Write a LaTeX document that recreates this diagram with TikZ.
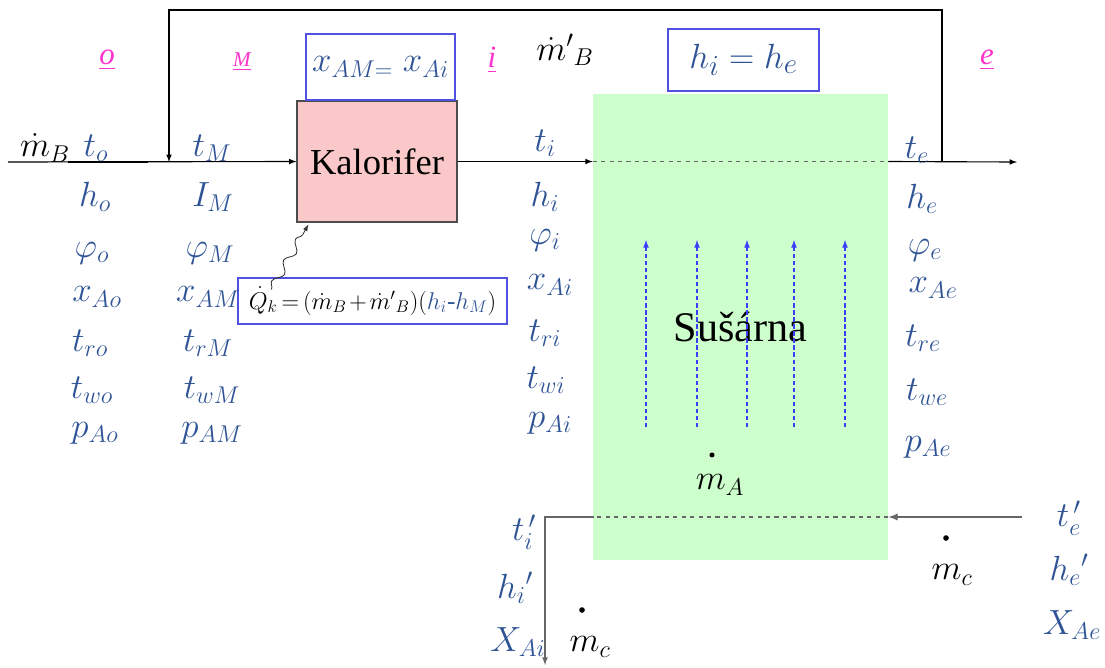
\documentclass[tikz,border=0pt]{standalone}
\usepackage{amsmath}
\usepackage{fontspec}
\setmainfont{Liberation Serif}
\usetikzlibrary{decorations.pathmorphing, calc}

\definecolor{varblue}{RGB}{47,84,150}
\definecolor{ptpink}{RGB}{255,51,204}
\definecolor{boxblue}{RGB}{80,80,225}
\definecolor{kalred}{RGB}{250,200,200}
\definecolor{susgreen}{RGB}{204,255,204}
\definecolor{arrblue}{RGB}{60,60,255}

\tikzset{
  var/.style={text=varblue, font=\fontsize{26}{30}\selectfont, inner sep=0pt},
  blk/.style={text=black, font=\fontsize{26}{30}\selectfont, inner sep=0pt},
  pt/.style={text=ptpink, font=\fontsize{22}{26}\selectfont\itshape, inner sep=0pt},
  eqbox/.style={draw=boxblue, line width=0.8pt, fill=white, inner sep=0pt},
  flow/.style={line width=0.8pt, -latex},
  back/.style={gray!80!black, line width=1.3pt},
}

\begin{document}
\begin{tikzpicture}[x=0.25mm, y=-0.25mm]
\useasboundingbox (0,0) rectangle (1105,667);

% dryer and heater
\node[fill=susgreen, minimum width=73.75mm, minimum height=116.5mm, font=\fontsize{30}{34}\selectfont] (sus) at (740.5,327) {Sušárna};
\node[draw=black!70, line width=0.8pt, fill=kalred, minimum width=40mm, minimum height=30.25mm, font=\fontsize{26}{30}\selectfont] (kal) at (377,161.5) {Kalorifer};

\node[eqbox, minimum width=37.25mm, minimum height=16.5mm, font=\fontsize{24}{28}\selectfont, text=varblue] (xbox) at (380.5,67) {$x_{AM=}\;x_{Ai}$};
\node[eqbox, minimum width=37.75mm, minimum height=15.5mm, font=\fontsize{29}{33}\selectfont, text=varblue] (hbox) at (743.5,60) {$h_i = h_e$};
\node[eqbox, minimum width=67.25mm, minimum height=11.5mm, font=\fontsize{18}{21}\selectfont] (qbox) at (372.5,301)
  {\medmuskip=2mu\thickmuskip=3mu$\dot{Q}_{k}=\left(\dot{m}_{B}+\dot{m}'{}_{B}\right)\!\left({\color{varblue}h_i\text{-}h_M}\right)$};

% main air line
\coordinate (in) at (8,162);
\coordinate (reci) at (169,162);
\coordinate (reco) at (942,162);
\coordinate (out) at (1017,162);
\draw[flow] (in) -- (kal.west);
\draw[line width=1.5pt] (68,162) -- (148,162);
\draw[flow] (reco) -- ++(0,-152) -| (reci);
\draw[flow] (kal.east) -- (kal.east -| sus.west);
\draw[dashed, gray!80!black, line width=0.8pt] (kal.east -| sus.west) -- (kal.east -| sus.east);
\draw[flow] (kal.east -| sus.east) -- (out);

% material line
\coordinate (cin) at (1022,517);
\coordinate (cout) at (545,665);
\draw[back, -latex] (cin) -- (cin -| sus.east);
\draw[dashed, gray!80!black, line width=0.8pt] (cin -| sus.east) -- (cin -| sus.west);
\draw[back, line width=0.9pt, -latex] (cin -| sus.west) -| (cout);

% heat
\draw[-latex, line width=0.6pt, black!80, decorate, decoration={snake, amplitude=1mm, segment length=6mm, post length=2mm}]
  ($(qbox.north west)+(34,12)$) -- ($(kal.south west)+(12,2)$);

% air flow in dryer
\foreach \x in {646,697,747,794,845}
  \draw[arrblue, dash pattern=on 3pt off 2pt, line width=0.9pt, -latex] (\x,427) -- (\x,240);

% state points
\node[pt] (po) at (107,60) {\underline{o}};
\node[pt, font=\fontsize{15}{18}\selectfont\itshape] (pM) at (242,62) {\underline{M}};
\node[pt] (pi) at (492,60) {\underline{i}};
\node[pt] (pe) at (987,60) {\underline{e}};
\node[blk] (mrec) at (565,50) {$\dot{m}'{}_{B}$};

% o
\node[blk, font=\fontsize{24}{28}\selectfont] (mB) at (45,148) {$\dot{m}_B$};
\node[var] (to) at (96,148) {$t_o$};
\node[var] (ho) at (95,197) {$h_o$};
\node[var] (fo) at (92,253) {$\varphi_o$};
\node[var] (xo) at (97,297) {$x_{Ao}$};
\node[var] (tro) at (90,343) {$t_{ro}$};
\node[var] (two) at (92,390) {$t_{wo}$};
\node[var] (po2) at (95,433) {$p_{Ao}$};
% M
\node[var] (tM) at (212,148) {$t_M$};
\node[var] (IM) at (213,197) {$I_M$};
\node[var] (fM) at (210,253) {$\varphi_M$};
\node[var] (xM) at (208,297) {$x_{AM}$};
\node[var] (trM) at (208,343) {$t_{rM}$};
\node[var] (twM) at (212,390) {$t_{wM}$};
\node[var] (pM2) at (212,433) {$p_{AM}$};
% i
\node[var] (ti) at (545,143) {$t_i$};
\node[var] (hi) at (545,197) {$h_i$};
\node[var] (fi) at (545,240) {$\varphi_i$};
\node[var] (xi) at (550,285) {$x_{Ai}$};
\node[var] (tri) at (545,333) {$t_{ri}$};
\node[var] (twi) at (546,380) {$t_{wi}$};
\node[var] (pi2) at (550,423) {$p_{Ai}$};
% e
\node[var] (te) at (917,150) {$t_e$};
\node[var] (he) at (922,199) {$h_e$};
\node[var] (fe) at (925,250) {$\varphi_e$};
\node[var] (xe) at (933,288) {$x_{Ae}$};
\node[var] (tre) at (923,338) {$t_{re}$};
\node[var] (twe) at (927,392) {$t_{we}$};
\node[var] (pe2) at (928,447) {$p_{Ae}$};

% material
\fill (712,455) circle (1.8pt);
\node[blk] (mA) at (720,485) {$m_A$};
\node[var] (ti2) at (524,532) {$t_i^{\,\prime}$};
\node[var] (hi2) at (515,588) {$h_i{}'$};
\node[var] (Xi) at (518,642) {$X_{Ai}$};
\fill (582,610) circle (2pt);
\node[blk] (mc1) at (590,647) {$m_c$};
\node[var] (te2) at (1069,518) {$t_e^{\,\prime}$};
\node[var] (he2) at (1069,570) {$h_e{}'$};
\node[var] (Xe) at (1072,625) {$X_{Ae}$};
\fill (946,538) circle (2pt);
\node[blk] (mc2) at (952,575) {$m_c$};
\end{tikzpicture}
\end{document}
